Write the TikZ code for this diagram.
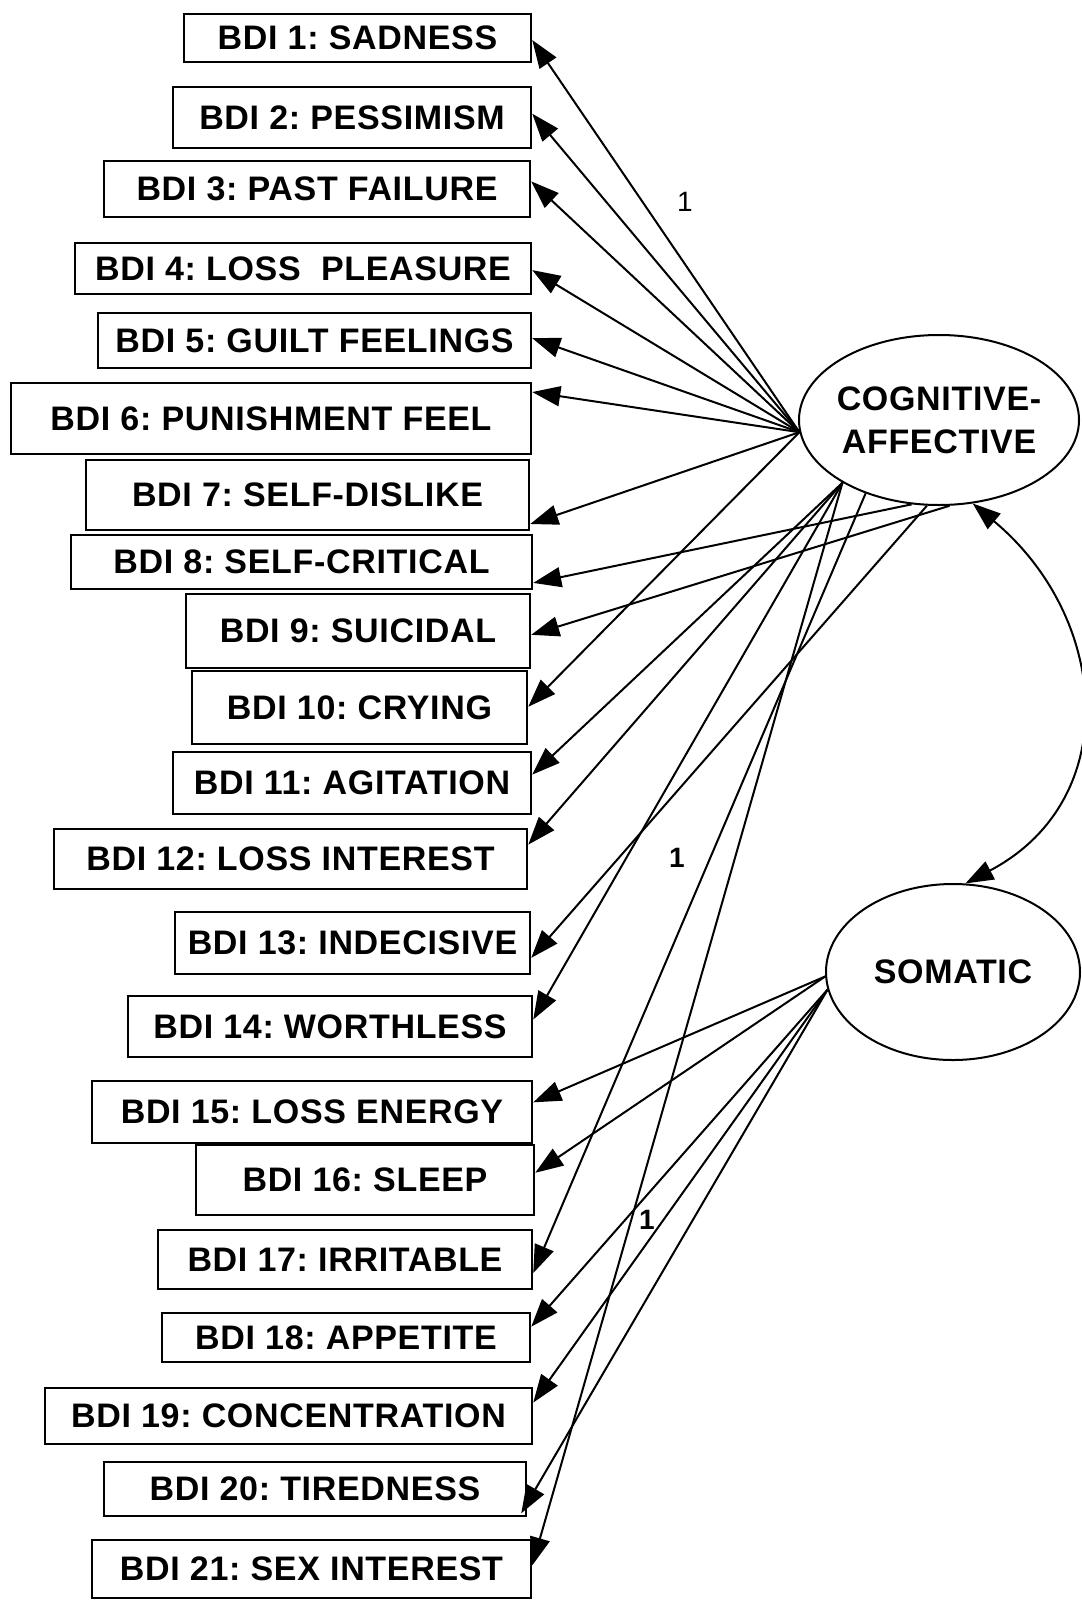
\documentclass[tikz,border=0pt]{standalone}
\usepackage{fontspec}
\setmainfont{Liberation Sans}
\newfontfamily\itemfont[LetterSpace=2]{Liberation Sans}
\usetikzlibrary{arrows.meta,calc,shapes.geometric}
\tikzset{
  item/.style={draw, line width=1.25pt, inner sep=0pt, font=\itemfont\bfseries\fontsize{17}{20}\selectfont},
  latent/.style={draw, ellipse, line width=1pt, inner sep=0pt},
  lattext/.style={align=center, inner sep=0pt, font=\itemfont\bfseries\fontsize{17}{21.5}\selectfont},
  load/.style={-{Triangle[length=14pt,width=10pt]}, line width=1pt},
  cov/.style={{Triangle[length=14pt,width=10pt]}-{Triangle[length=14pt,width=10pt]}, line width=1pt},
  fixed/.style={inner sep=0pt, font=\fontsize{14}{16}\selectfont},
  fixedbold/.style={inner sep=0pt, font=\bfseries\fontsize{14}{16}\selectfont}
}
\frenchspacing

\begin{document}
\begin{tikzpicture}[x=0.5pt,y=-0.5pt]
\useasboundingbox (0,0) rectangle (1081,1600);
% items: number/left/top/right/bottom/label
\foreach \i/\l/\t/\r/\b/\txt in {
  1/184/14/531/62/SADNESS,
  2/173/87/531/148/PESSIMISM,
  3/104/161/530/217/PAST FAILURE,
  4/75/243/531/294/LOSS\ \ PLEASURE,
  5/98/313/531/368/GUILT FEELINGS,
  6/11/383/531/454/PUNISHMENT FEEL,
  7/86/460/529/530/SELF-DISLIKE,
  8/71/535/532/589/SELF-CRITICAL,
  9/186/594/530/668/SUICIDAL,
  10/192/671/527/744/CRYING,
  11/173/752/531/814/AGITATION,
  12/54/829/527/889/LOSS INTEREST,
  13/175/912/530/974/INDECISIVE,
  14/128/996/532/1057/WORTHLESS,
  15/92/1081/532/1143/LOSS ENERGY,
  16/196/1145/534/1215/SLEEP,
  17/158/1230/532/1289/IRRITABLE,
  18/162/1313/530/1362/APPETITE,
  19/45/1388/532/1444/CONCENTRATION,
  20/104/1462/526/1516/TIREDNESS,
  21/92/1540/531/1598/SEX INTEREST}
\node[item, minimum width={(\r-\l)*0.5pt}, minimum height={(\b-\t)*0.5pt}]
  (bdi\i) at ({(\l+\r)/2},{(\t+\b)/2}) {BDI \i: \txt};

% factors
\node[latent, minimum width=140pt, minimum height=85pt] (cog) at (939,420) {};
\node[lattext] (cogtext) at (cog.center) {COGNITIVE-\\AFFECTIVE};
\node[latent, minimum width=127pt, minimum height=88pt] (som) at (953,972) {};
\node[lattext] (somtext) at (som.center) {SOMATIC};

% loadings: item/anchor angle/height on the box side
\foreach \i/\a/\f in {1/185/0.54, 2/185/0.44, 3/185/0.37, 4/185/0.53,
  5/185/0.46, 6/185/0.14, 7/185/0.9, 8/252/0.87, 9/277/0.55, 10/185/0.49,
  11/213/0.37, 12/213/0.27, 13/262/0.73, 14/213/0.39, 17/225/0.72, 21/213/0.44}
\draw[load] (cog.\a) -- ($(bdi\i.north east)!\f!(bdi\i.south east)$);
\foreach \i/\a/\f in {15/182/0.35, 16/182/0.40, 18/188/0.29, 19/188/0.27}
\draw[load] (som.\a) -- ($(bdi\i.north east)!\f!(bdi\i.south east)$);
\draw[load] (som.188) -- ($(bdi20.north east)!0.93!(bdi20.south east)+(-6,0)$);

% covariance
\draw[cov] (cog.292) .. controls (1110,618) and (1124,800) .. (som.82);

% fixed loadings
\node[fixed] (fix1) at (685,202) {1};
\node[fixedbold] (fix2) at (677,858) {1};
\node[fixedbold] (fix3) at (647,1220) {1};
\end{tikzpicture}
\end{document}
